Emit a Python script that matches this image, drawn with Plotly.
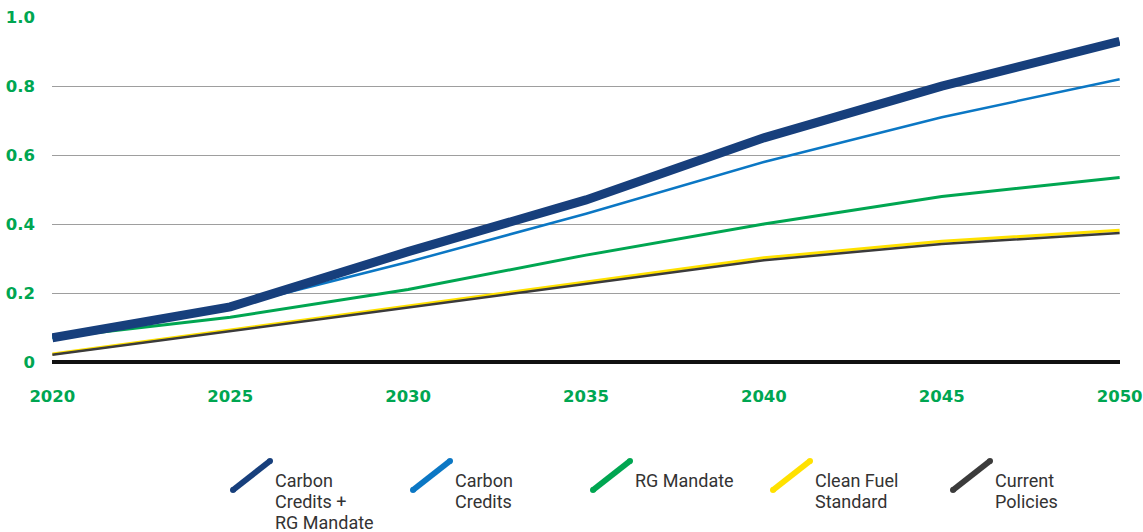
import plotly.graph_objects as go

# Scenario projections, 2020-2050
years = [2020, 2025, 2030, 2035, 2040, 2045, 2050]
carbon_credits_rg = [0.07, 0.16, 0.32, 0.47, 0.65, 0.80, 0.93]
carbon_credits = [0.07, 0.16, 0.29, 0.43, 0.58, 0.71, 0.82]
rg_mandate = [0.07, 0.13, 0.21, 0.31, 0.40, 0.48, 0.535]
clean_fuel = [0.023, 0.092, 0.162, 0.232, 0.302, 0.350, 0.382]
current_policies = [0.021, 0.089, 0.158, 0.227, 0.295, 0.342, 0.374]

series_names = [["Carbon", "Credits +", "RG Mandate"], ["Carbon", "Credits"], ["RG Mandate"],
                ["Clean Fuel", "Standard"], ["Current", "Policies"]]
y_ticks = [0, 0.2, 0.4, 0.6, 0.8, 1.0]
y_tick_text = ["0", "0.2", "0.4", "0.6", "0.8", "1.0"]

NAVY = "#173F7C"
BLUE = "#0B77C4"
GREEN = "#00A651"
YELLOW = "#FFE100"
DARK = "#3B3B3B"

W, H = 1143, 532
L, R, T, B = 52, 1120, 17, 362
EPS_X, EPS_Y = 0.01, 0.0005

fig = go.Figure()

traces = [
    (clean_fuel, YELLOW, 3),
    (current_policies, DARK, 2.5),
    (rg_mandate, GREEN, 3),
    (carbon_credits, BLUE, 2.5),
    (carbon_credits_rg, NAVY, 9),
]
for vals, col, w in traces:
    fig.add_trace(go.Scatter(x=years, y=vals, mode="lines",
                             line=dict(color=col, width=w),
                             cliponaxis=False, showlegend=False, hoverinfo="skip"))


def px_to_paper(x, y):
    return (x - L) / (R - L), (B - y) / (B - T)


shapes = []
annotations = []
legend_items = [
    (series_names[0], NAVY, 233),
    (series_names[1], BLUE, 413),
    (series_names[2], GREEN, 593),
    (series_names[3], YELLOW, 773),
    (series_names[4], DARK, 953),
]
for lines, col, x0 in legend_items:
    ax, ay = px_to_paper(x0, 490)
    bx, by = px_to_paper(x0 + 37, 461)
    shapes.append(dict(type="line", xref="paper", yref="paper", x0=ax, y0=ay, x1=bx, y1=by,
                       line=dict(color=col, width=6)))
    for cx, cy in ((ax, ay), (bx, by)):
        shapes.append(dict(type="circle", xref="paper", yref="paper",
                           xsizemode="pixel", ysizemode="pixel",
                           xanchor=cx, yanchor=cy, x0=-3, x1=3, y0=-3, y1=3,
                           fillcolor=col, line=dict(width=0)))
    for i, line in enumerate(lines):
        tx, ty = px_to_paper(x0 + 40, 480 + 21 * i)
        annotations.append(dict(xref="paper", yref="paper", x=tx, y=ty,
                                xanchor="left", yanchor="middle",
                                text=line, showarrow=False, align="left",
                                font=dict(family="Roboto", size=18, color="#333333")))

tick_font = dict(family="DejaVu Sans", size=16.5, color=GREEN, weight="bold")

fig.update_layout(
    width=W, height=H,
    margin=dict(l=L, r=W - R, t=T, b=H - B),
    paper_bgcolor="white", plot_bgcolor="white",
    shapes=shapes, annotations=annotations,
    xaxis=dict(range=[2020 - EPS_X, 2050 + EPS_X], tickvals=years, ticks="",
               showgrid=False, zeroline=False, showline=False, ticklabelstandoff=22,
               ticklabeloverflow="allow", automargin=False, tickfont=tick_font),
    yaxis=dict(range=[0, 1 + EPS_Y], tickvals=y_ticks, ticktext=y_tick_text, ticks="",
               showgrid=True, gridcolor="#9E9E9E", gridwidth=1,
               zeroline=True, zerolinecolor="#111111", zerolinewidth=3.5,
               showline=False, ticklabelstandoff=16, ticklabeloverflow="allow",
               automargin=False, tickfont=tick_font),
)

fig.write_html("out.html")
